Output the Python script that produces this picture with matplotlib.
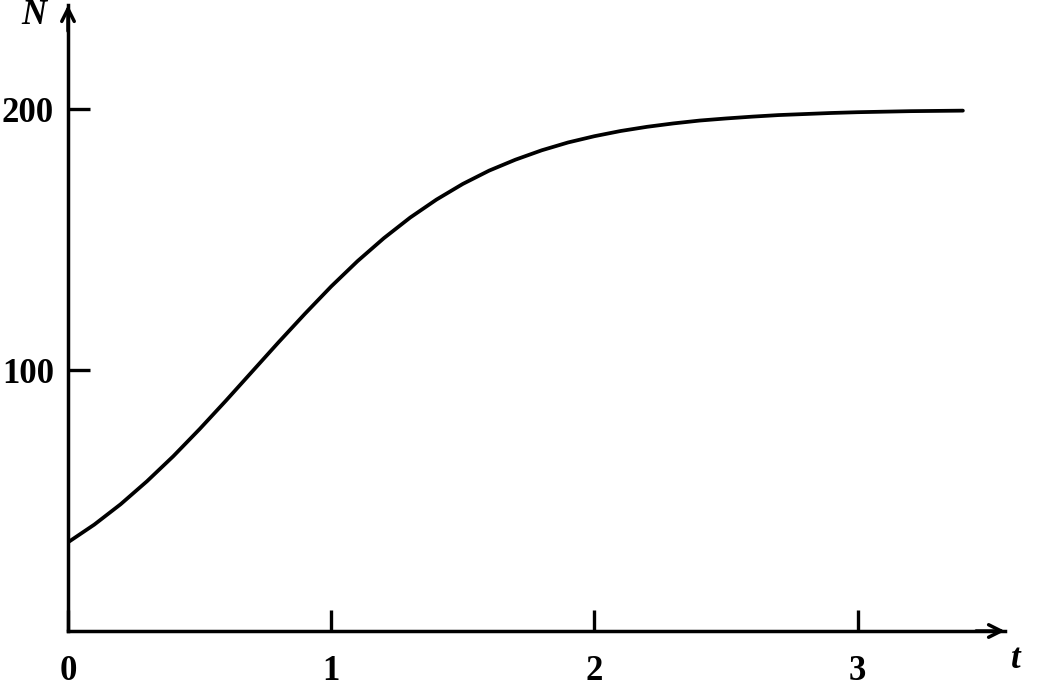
import matplotlib.pyplot as plt
import numpy as np

# values
t = [0.0, 0.1, 0.2, 0.3, 0.4, 0.5, 0.6, 0.7, 0.8, 0.9, 1.0, 1.1, 1.2, 1.3,
     1.4, 1.5, 1.6, 1.7, 1.8, 1.9, 2.0, 2.1, 2.2, 2.3, 2.4, 2.5, 2.6, 2.7,
     2.8, 2.9, 3.0, 3.1, 3.2, 3.3, 3.4]
N = [34.0, 40.8, 48.6, 57.4, 67.0, 77.4, 88.3, 99.5, 110.7, 121.6, 132.1,
     141.8, 150.6, 158.5, 165.4, 171.4, 176.5, 180.7, 184.3, 187.3, 189.7,
     191.7, 193.3, 194.6, 195.7, 196.5, 197.2, 197.8, 198.2, 198.6, 198.9,
     199.1, 199.3, 199.4, 199.5]
x_ticks = [0, 1, 2, 3]
y_ticks = [100, 200]

plt.rcParams['font.family'] = ['Liberation Serif', 'DejaVu Serif']

fig = plt.figure(figsize=(10.4, 7), dpi=100)
ax = fig.add_axes([68 / 1040, 69 / 700, (1005 - 68) / 1040, (631 - 5) / 700])

ax.plot(t, N, color='black', lw=2.7, solid_capstyle='round',
        solid_joinstyle='round')

ax.set_xlim(0, 3.56)
ax.set_ylim(0, 240)

for s in ['top', 'right']:
    ax.spines[s].set_visible(False)
for s in ['left', 'bottom']:
    ax.spines[s].set_linewidth(2.5)

ax.set_xticks(x_ticks)
ax.set_yticks(y_ticks)
ax.set_xticklabels([str(v) for v in x_ticks], fontsize=25, fontweight='bold')
ax.set_yticklabels([str(v) for v in y_ticks], fontsize=25, fontweight='bold')
ax.tick_params(axis='x', direction='in', length=15, width=2.4, pad=17)
ax.tick_params(axis='y', direction='in', length=16, width=2.4, pad=10)

# arrow heads on the axes
arrow = dict(arrowstyle='->,head_length=0.9,head_width=0.45', lw=2.5,
             color='black', shrinkA=0, shrinkB=0)
ax.annotate('', xy=(3.56, 0), xytext=(3.45, 0), arrowprops=arrow,
            annotation_clip=False)
ax.annotate('', xy=(0, 240), xytext=(0, 230), arrowprops=arrow,
            annotation_clip=False)

fig.text(1016 / 1040, 1 - 660 / 700, 't', fontsize=25, fontstyle='italic',
         fontweight='bold', ha='center', va='center')
fig.text(34 / 1040, 1 - 16 / 700, 'N', fontsize=25, fontstyle='italic',
         fontweight='bold', ha='center', va='center')

fig.savefig('out.png', dpi=100, facecolor='white')
